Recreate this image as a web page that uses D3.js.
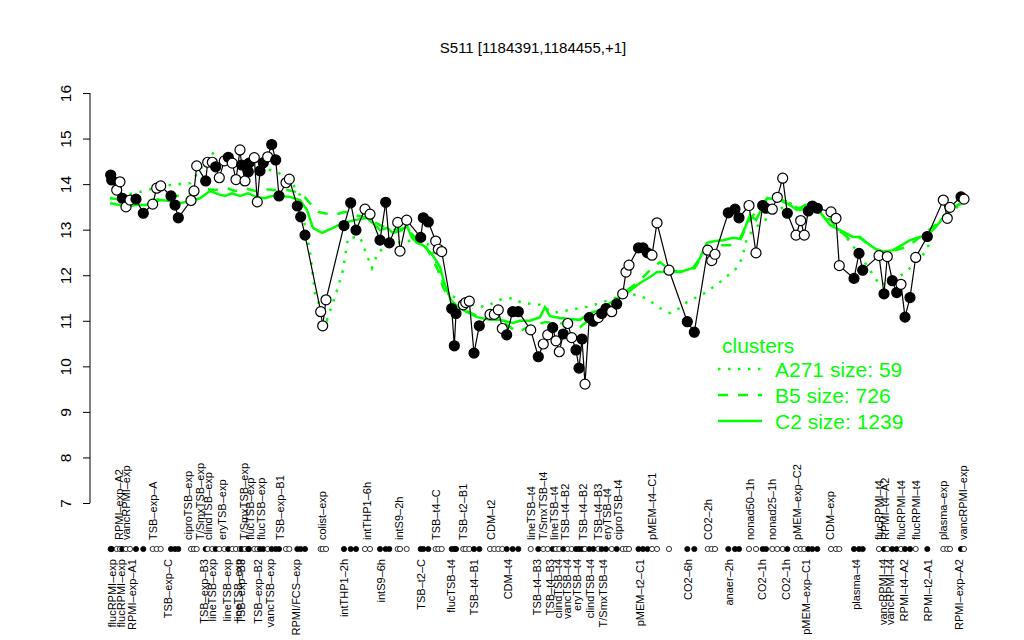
<!DOCTYPE html>
<html>
<head>
<meta charset="utf-8">
<script src="https://cdn.jsdelivr.net/npm/d3@7"></script>
<style>
  body { margin: 0; background: #fff; }
  svg { font-family: "Liberation Sans", Arial, sans-serif; }
</style>
</head>
<body>
<svg width="1024" height="640"></svg>
<script>
// sample positions (array order units), expression values, filled = 1
var samplePos = [1.57,1.67,2.17,2.5,2.73,3.1,3.5,4.1,4.83,5.77,6.17,6.57,7.6,8.0,8.33,9.6,9.9,10.17,11.07,11.27,
  11.73,12.07,12.43,12.93,13.33,13.73,14.1,14.5,14.67,15.0,15.33,15.4,15.93,16.23,16.5,16.83,17.27,17.67,18.07,18.4,
  19.1,19.43,20.23,20.57,21.0,22.57,22.77,23.1,24.9,25.57,26.1,27.0,27.5,28.5,29.07,29.43,30.27,30.5,31.17,32.57,
  32.83,33.33,34.07,34.33,34.67,35.67,35.93,36.1,36.83,37.07,37.43,37.9,38.43,39.5,39.93,40.33,40.73,41.17,41.77,42.33,
  43.57,44.33,44.83,45.27,45.77,46.1,46.43,46.83,47.27,47.67,48.1,48.4,48.7,49.0,49.43,49.83,50.33,50.67,51.1,51.67,
  52.17,52.77,53.1,53.4,54.35,54.8,55.25,55.7,56.2,57.4,59.23,59.93,61.27,61.67,62.0,63.33,64.0,64.4,65.4,66.1,
  66.77,67.1,67.73,68.23,68.77,69.23,70.1,70.57,70.93,71.33,71.73,72.23,73.6,74.1,74.43,75.9,76.4,76.77,78.4,78.9,
  79.23,79.73,80.17,80.6,81.0,81.5,82.07,83.23,84.83,85.23,85.5,86.6,86.9];
var sampleVal = [14.20,14.09,13.87,14.05,13.69,13.50,13.65,13.67,13.36,13.56,13.91,13.96,13.74,13.54,13.26,13.64,13.85,14.40,14.07,14.48,
  14.48,14.38,14.14,14.51,14.59,14.46,14.10,14.75,14.42,14.07,14.27,14.46,14.58,13.61,14.29,14.47,14.60,14.87,14.53,13.74,
  14.03,14.11,13.52,13.28,12.88,11.20,10.89,11.46,13.09,13.59,12.99,13.45,13.34,12.77,13.60,12.71,13.16,12.53,13.21,12.83,
  13.26,13.17,12.75,12.57,12.52,11.27,10.45,11.16,11.35,11.40,11.43,10.29,10.89,11.14,11.14,11.24,10.83,10.69,11.20,11.20,
  10.80,10.21,10.49,10.69,10.85,10.56,10.32,10.71,10.94,10.63,10.36,9.96,10.60,9.61,11.07,10.99,11.07,11.16,11.27,11.20,
  11.37,11.59,12.07,12.22,12.60,12.60,12.49,12.44,13.15,12.11,10.98,10.75,12.55,12.32,12.46,13.37,13.45,13.26,13.53,12.49,
  13.53,13.47,13.45,13.71,14.13,13.36,12.88,13.20,12.88,13.41,13.52,13.47,13.39,13.25,12.21,11.93,12.48,12.11,12.43,11.59,
  12.41,11.88,11.62,11.80,11.08,11.51,12.39,12.85,13.65,13.25,13.49,13.72,13.67];
var sampleFilled = [1,1,0,0,1,0,0,1,1,0,0,0,1,1,1,0,0,0,1,0,
  0,1,0,0,1,0,0,0,1,0,1,1,0,0,1,1,0,1,1,1,
  0,0,1,1,1,0,0,0,1,1,1,0,0,1,1,1,0,0,0,1,
  1,1,0,0,0,1,1,1,0,0,0,1,1,0,0,0,0,1,1,1,
  0,1,0,0,1,0,0,1,0,0,1,1,1,0,1,1,0,1,1,0,
  1,0,0,0,1,1,1,0,0,0,1,1,0,0,0,1,1,1,0,0,
  1,1,0,0,0,1,0,0,0,1,1,1,0,0,0,1,1,1,0,1,
  0,1,1,0,1,1,0,1,0,0,0,1,0];

// cluster mean profiles
var c2Pos = [1.5,2.5,3.2,4.0,5.0,5.7,6.5,7.5,8.5,9.5,10.5,11.5,12.3,13.0,13.7,14.5,15.3,16.1,17.0,17.7,
  18.5,19.5,20.5,21.2,21.8,22.7,23.8,24.8,26.0,27.2,28.0,28.5,29.2,29.8,30.5,31.2,31.7,32.2,32.8,33.5,
  34.1,34.5,34.9,35.2,35.7,36.5,37.2,38.2,39.5,40.5,41.8,42.5,43.5,44.5,45.0,45.5,46.5,47.5,48.5,49.5,
  50.5,51.5,52.3,53.2,54.5,55.5,56.2,57.3,58.5,59.8,60.5,61.2,62.0,62.8,63.8,64.5,65.0,65.5,66.1,66.7,
  67.2,68.5,69.5,70.2,71.0,71.8,72.5,73.5,74.5,75.8,76.5,77.5,78.5,79.8,80.5,81.5,82.5,83.2,84.0,85.2,
  86.0,86.8];
var c2Val = [13.58,13.54,13.50,13.54,13.54,13.58,13.65,13.63,13.58,13.63,13.69,13.85,13.78,13.74,13.80,13.74,13.80,13.72,13.69,13.74,
  13.74,13.72,13.65,13.43,13.04,12.93,13.04,13.15,13.21,13.26,13.10,12.99,13.04,12.93,12.97,13.08,12.82,12.71,12.66,12.51,
  12.33,12.18,11.85,11.67,11.39,11.28,11.19,11.08,11.02,11.02,10.95,11.00,11.00,11.08,11.30,11.10,11.06,11.04,11.02,11.17,
  11.24,11.39,11.50,11.61,11.83,11.96,12.07,12.07,12.07,12.16,12.38,12.71,12.75,12.77,12.82,12.80,13.04,13.32,13.21,13.47,
  13.69,13.65,13.54,13.43,13.54,13.54,13.39,13.10,12.99,12.84,12.84,12.66,12.51,12.55,12.64,12.77,12.84,12.88,13.04,13.36,
  13.52,13.58];
var b5Pos = [1.5,3.0,4.5,6.0,7.5,9.0,10.5,11.2,12.0,13.2,14.0,15.0,16.0,16.8,18.0,19.2,20.1,20.8,21.5,22.3,
  23.8,25.0,26.0,27.2,28.5,29.8,31.2,32.0,33.0,33.7,34.3,34.8,35.5,36.5,38.0,39.5,41.0,42.2,43.5,45.0,
  46.5,48.5,50.0,51.5,53.0,54.5,55.5,56.5,57.5,58.5,60.0,61.0,62.0,63.5,64.5,65.5,66.5,67.3,68.5,69.5,
  70.5,71.8,73.0,74.5,75.5,76.5,77.8,79.0,80.0,81.2,82.5,84.0,85.5,86.8];
var b5Val = [13.69,13.65,13.58,13.65,13.72,13.76,13.83,13.89,13.87,13.91,13.85,13.91,13.85,13.89,13.87,13.87,13.83,13.76,13.58,13.39,
  13.32,13.39,13.32,13.26,13.10,12.99,13.04,12.82,12.66,12.38,12.11,11.74,11.46,11.28,11.13,11.06,10.95,10.75,10.88,10.97,
  10.95,10.86,11.13,11.35,11.63,11.89,12.11,12.29,12.11,12.07,12.16,12.55,12.66,12.66,12.77,13.21,13.54,13.69,13.65,13.61,
  13.43,13.54,13.32,12.99,12.77,12.82,12.60,12.51,12.55,12.62,12.84,13.10,13.43,13.61];
var a271Pos = [1.5,3.0,4.5,6.0,7.5,8.5,9.5,10.5,11.6,12.5,13.5,14.5,15.5,16.5,17.5,18.2,19.5,20.5,21.0,21.5,
  22.0,22.7,23.2,24.2,24.8,25.3,26.5,27.3,27.7,28.3,29.5,30.5,32.0,33.2,33.8,34.8,35.5,36.5,38.0,39.0,
  40.5,41.7,42.7,44.5,45.8,47.5,49.5,51.5,53.0,54.2,55.0,55.8,56.5,57.5,58.5,59.2,60.0,61.0,62.5,64.3,
  64.7,65.2,66.0,66.8,68.0,69.5,70.5,72.0,73.5,75.1,76.5,77.5,78.5,79.8,81.1,82.3,83.2,83.8,85.0,86.8];
var a271Val = [13.69,13.76,13.83,13.91,13.98,14.00,14.02,14.31,14.70,14.57,14.53,14.48,14.42,14.35,14.31,14.27,14.09,13.76,13.06,12.51,
  11.61,11.19,11.02,11.67,12.11,12.82,12.84,12.38,12.16,12.51,12.66,12.73,12.77,12.71,12.51,11.83,11.57,11.46,11.35,11.30,
  11.46,11.50,11.39,11.35,11.17,11.24,11.32,11.46,11.57,11.57,11.50,11.39,11.28,11.17,11.28,11.41,11.50,11.61,11.85,12.18,
  12.38,12.82,13.04,13.17,13.39,13.58,13.47,13.43,13.17,12.84,12.44,12.11,11.78,11.89,12.07,12.33,12.55,12.99,13.32,13.58];

// condition labels, drawn above and below the sample strip
var topLabels = ["RPMI\u2013exp\u2013A2","vancRPMI\u2013exp","TSB\u2013exp\u2013A","ciproTSB\u2013exp","T/SmxTSB\u2013exp","clindTSB\u2013exp",
  "eryTSB\u2013exp","T/SmxTSB\u2013exp","flucTSB\u2013exp","flucTSB\u2013exp","TSB\u2013exp\u2013B1","colist\u2013exp","intTHP1\u20136h",
  "intS9\u20132h","TSB\u2013t4\u2013C","TSB\u2013t2\u2013B1","CDM\u2013t2","lineTSB\u2013t4","T/SmxTSB\u2013t4","lineTSB\u2013t4",
  "TSB\u2013t4\u2013B2","TSB\u2013t4\u2013B2","TSB\u2013t4\u2013B3","eryTSB\u2013t4","ciproTSB\u2013t4","pMEM\u2013t4\u2013C1","CO2\u20132h",
  "nonad50\u20131h","nonad25\u20131h","pMEM\u2013exp\u2013C2","CDM\u2013exp","flucRPMI\u2013t4","RPMI\u2013t4\u2013A2","flucRPMI\u2013t4",
  "flucRPMI\u2013t4","plasma\u2013exp","vancRPMI\u2013exp"];
var topLabelPos = [2.4,3.1,5.8,9.3,10.5,11.3,12.7,14.9,15.5,16.6,18.5,22.7,27.2,30.4,34.1,36.8,39.6,43.6,44.8,45.9,
  47.0,48.8,50.3,51.2,52.3,55.7,61.3,65.5,67.7,70.2,73.5,78.4,79.0,80.6,82.1,84.8,86.8];
var bottomLabels = ["flucRPMI\u2013exp","flucRPMI\u2013exp","RPMI\u2013exp\u2013A1","TSB\u2013exp\u2013C","TSB\u2013exp\u2013B3","lineTSB\u2013exp",
  "lineTSB\u2013exp","lineTSB\u2013exp","TSB\u2013exp\u2013B3","TSB\u2013exp\u2013B2","vancTSB\u2013exp","RPMI/FCS\u2013exp","intTHP1\u20132h",
  "intS9\u20136h","TSB\u2013t2\u2013C","flucTSB\u2013t4","TSB\u2013t4\u2013B1","CDM\u2013t4","TSB\u2013t4\u2013B3","TSB\u2013t4\u2013B3",
  "clindTSB\u2013t4","vancTSB\u2013t4","eryTSB\u2013t4","clindTSB\u2013t4","T/SmxTSB\u2013t4","pMEM\u2013t2\u2013C1","CO2\u20136h",
  "anaer\u20132h","CO2\u20131h","CO2\u20131h","pMEM\u2013exp\u2013C1","plasma\u2013t4","vancRPMI\u2013t4","vancRPMI\u2013t4",
  "RPMI\u2013t4\u2013A2","RPMI\u2013t2\u2013A1","RPMI\u2013exp\u2013A2"];
var bottomLabelPos = [1.7,2.6,3.7,7.3,10.9,11.7,13.2,14.3,14.6,16.3,17.5,20.1,24.9,28.6,32.6,35.6,37.9,41.3,44.2,45.5,
  46.3,47.2,48.2,49.5,50.8,54.5,59.3,63.4,66.7,69.1,71.1,76.1,78.8,79.5,80.9,83.3,86.4];

var yTicks = [7,8,9,10,11,12,13,14,15,16];
var clusterNames = ["A271 size: 59", "B5 size: 726", "C2 size: 1239"];
var clusterDash = ["2.5,7.5", "10,10", null];

var green = "#00ff00";
var svg = d3.select("svg");

var x = d3.scaleLinear().domain([0, 88]).range([95, 975]);
var y = d3.scaleLinear().domain([7, 16]).range([503, 93]);

var samples = samplePos.map(function(p, i) {
  return {pos: p, val: sampleVal[i], filled: sampleFilled[i]};
});

// y axis
var yAxis = svg.append("g")
  .attr("transform", "translate(90,0)")
  .call(d3.axisLeft(y).tickValues(yTicks).tickSize(7).tickFormat(d3.format("d")));
yAxis.select(".domain").attr("d", "M0," + y(7) + "V" + y(16)).attr("stroke", "#000");
yAxis.selectAll(".tick line").attr("stroke", "#000");
yAxis.selectAll(".tick text")
  .attr("font-size", "15.5px")
  .attr("font-family", "Liberation Sans, Arial, sans-serif")
  .attr("fill", "#000")
  .attr("text-anchor", "middle")
  .attr("dy", null)
  .attr("x", null)
  .attr("transform", "translate(-19,0) rotate(-90)");

// title
svg.append("text")
  .attr("x", 533)
  .attr("y", 53)
  .attr("text-anchor", "middle")
  .attr("font-size", "15px")
  .text("S511 [1184391,1184455,+1]");

// cluster profiles
function lineFor(posArr, valArr) {
  return posArr.map(function(p, i) { return [p, valArr[i]]; });
}
var line = d3.line().x(function(d) { return x(d[0]); }).y(function(d) { return y(d[1]); });

svg.append("path").datum(lineFor(a271Pos, a271Val))
  .attr("d", line).attr("fill", "none").attr("stroke", green)
  .attr("stroke-width", 2.5).attr("stroke-dasharray", "2.5,7.5").attr("stroke-linecap", "butt");
svg.append("path").datum(lineFor(b5Pos, b5Val))
  .attr("d", line).attr("fill", "none").attr("stroke", green)
  .attr("stroke-width", 2.5).attr("stroke-dasharray", "10,10");
svg.append("path").datum(lineFor(c2Pos, c2Val))
  .attr("d", line).attr("fill", "none").attr("stroke", green)
  .attr("stroke-width", 2.5);

// probe profile
svg.append("path").datum(samples)
  .attr("d", d3.line().x(function(d) { return x(d.pos); }).y(function(d) { return y(d.val); }))
  .attr("fill", "none").attr("stroke", "#000").attr("stroke-width", 1.2);

svg.selectAll("circle.pt")
  .data(samples)
  .enter()
  .append("circle")
  .attr("class", "pt")
  .attr("cx", function(d) { return x(d.pos); })
  .attr("cy", function(d) { return y(d.val); })
  .attr("r", 5)
  .attr("fill", function(d) { return d.filled ? "#000" : "#fff"; })
  .attr("stroke", "#000")
  .attr("stroke-width", 1.2);

// sample strip
svg.selectAll("circle.strip")
  .data(samples)
  .enter()
  .append("circle")
  .attr("class", "strip")
  .attr("cx", function(d) { return x(d.pos); })
  .attr("cy", 549)
  .attr("r", 2.6)
  .attr("fill", function(d) { return d.filled ? "#000" : "#fff"; })
  .attr("stroke", "#000")
  .attr("stroke-width", 0.8);

svg.selectAll("text.top")
  .data(topLabels)
  .enter()
  .append("text")
  .attr("class", "top")
  .attr("font-size", "11px")
  .attr("text-anchor", "start")
  .attr("dominant-baseline", "central")
  .attr("transform", function(d, i) { return "translate(" + x(topLabelPos[i]) + ",540) rotate(-90)"; })
  .text(function(d) { return d; });

svg.selectAll("text.bottom")
  .data(bottomLabels)
  .enter()
  .append("text")
  .attr("class", "bottom")
  .attr("font-size", "11px")
  .attr("text-anchor", "end")
  .attr("dominant-baseline", "central")
  .attr("transform", function(d, i) { return "translate(" + x(bottomLabelPos[i]) + ",559) rotate(-90)"; })
  .text(function(d) { return d; });

// legend
var legend = svg.append("g").attr("transform", "translate(718,345)");
legend.append("text")
  .attr("x", 4).attr("y", 0)
  .attr("dominant-baseline", "central")
  .attr("font-size", "21px")
  .attr("fill", green)
  .text("clusters");
clusterNames.forEach(function(name, i) {
  var ly = 24 + i * 26;
  legend.append("line")
    .attr("x1", 0).attr("x2", 44).attr("y1", ly).attr("y2", ly)
    .attr("stroke", green).attr("stroke-width", 2.5)
    .attr("stroke-dasharray", clusterDash[i]);
  legend.append("text")
    .attr("x", 57).attr("y", ly)
    .attr("dominant-baseline", "central")
    .attr("font-size", "21px")
    .attr("fill", green)
    .text(name);
});
</script>
</body>
</html>
